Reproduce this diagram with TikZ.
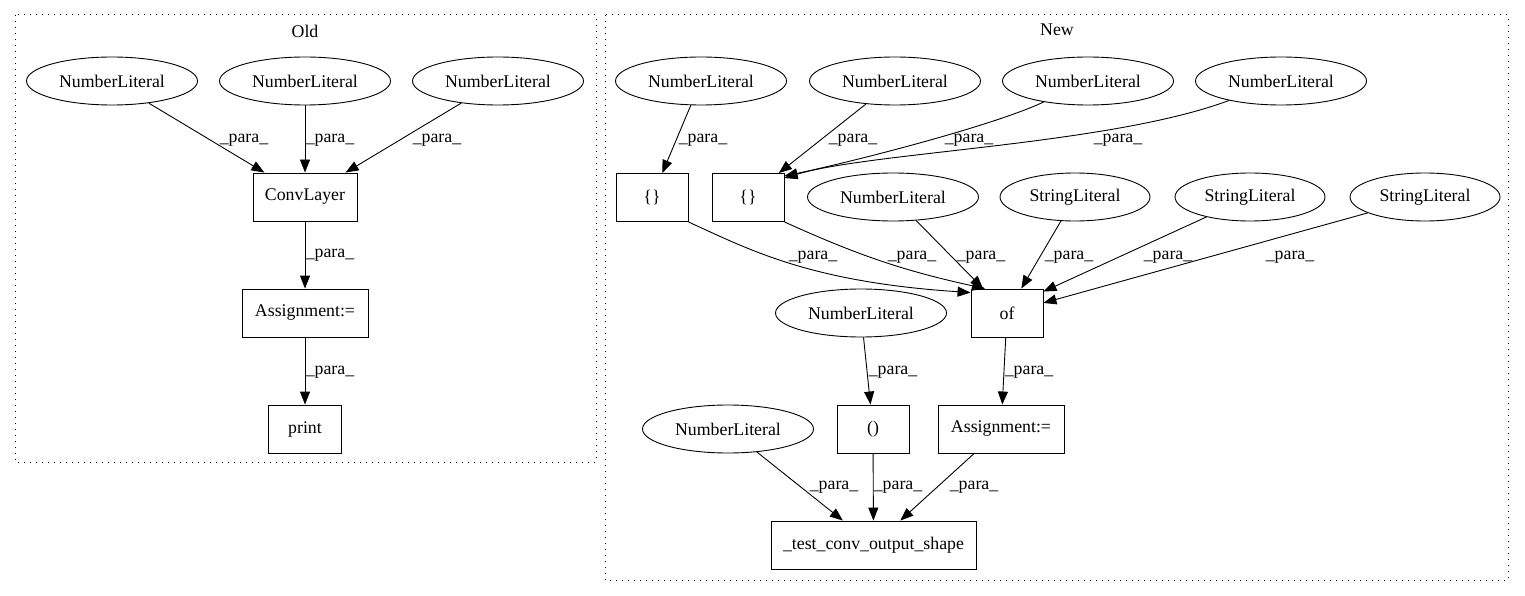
\documentclass[tikz,border=0pt]{standalone}
\usepackage{fontspec}
\setmainfont{Liberation Serif}
\usepackage{tikz}
\usetikzlibrary{shapes,arrows.meta}
\tikzstyle{lit}     = [ellipse, draw, minimum width=171pt, minimum height=48pt, inner sep=0pt]
\tikzstyle{strlit}  = [lit, minimum width=150pt]
\tikzstyle{op}      = [rectangle, draw, minimum width=72pt, minimum height=48pt, inner sep=0pt]
\tikzstyle{arrow}   = [->, >={Triangle[length=13pt,width=10pt]}]
\tikzstyle{lbl}     = [inner sep=0pt]
\tikzstyle{cluster} = [draw, line width=1pt, dash pattern=on 1pt off 5pt]

\begin{document}
\begin{tikzpicture}[x=1pt, y=-1pt, line width=0.9pt, font=\fontsize{17.8}{21}\selectfont]
        \useasboundingbox (0,0) rectangle (1525,596);

        % Old
        \draw[cluster] (15,15) rectangle (596,462);
        \node (oldtitle) at (305,31) {Old};
        \node[lit] (oldnum1) at (112,81) {NumberLiteral};
        \node[lit] (oldnum2) at (305,81) {NumberLiteral};
        \node[lit] (oldnum3) at (498,81) {NumberLiteral};
        \node[op, minimum width=104pt] (convlayer) at (305,197) {ConvLayer};
        \node[op, minimum width=126pt] (oldassign) at (305,313) {Assignment:=};
        \node[op, minimum width=73pt] (print) at (305,429) {print};

        \draw[arrow] (oldnum1) -- (convlayer) node[lbl] at (244,140) {\_para\_};
        \draw[arrow] (oldnum2) -- (convlayer) node[lbl] at (330,140) {\_para\_};
        \draw[arrow] (oldnum3) -- (convlayer) node[lbl] at (437,140) {\_para\_};
        \draw[arrow] (convlayer) -- (oldassign) node[lbl] at (330,255) {\_para\_};
        \draw[arrow] (oldassign) -- (print) node[lbl] at (330,372) {\_para\_};

        % New
        \draw[cluster] (605,15) rectangle (1508,580);
        \node (newtitle) at (1057,30) {New};
        \node[lit] (newnum1) at (701,81) {NumberLiteral};
        \node[lit] (newnum2) at (895,81) {NumberLiteral};
        \node[lit] (newnum3) at (1088,81) {NumberLiteral};
        \node[lit] (newnum4) at (1281,81) {NumberLiteral};
        \node[op] (brace1) at (652,197.5) {\{\}};
        \node[op] (brace2) at (748,197.5) {\{\}};
        \node[lit] (newnum5) at (893,197) {NumberLiteral};
        \node[strlit] (str1) at (1075,197) {StringLiteral};
        \node[strlit] (str2) at (1250,197) {StringLiteral};
        \node[strlit] (str3) at (1425,197) {StringLiteral};
        \node[op] (of) at (1007,313) {of};
        \node[lit] (newnum6) at (861,313) {NumberLiteral};
        \node[lit] (newnum7) at (728,429) {NumberLiteral};
        \node[op] (paren) at (873,429) {()};
        \node[op, minimum width=126pt] (newassign) at (1001,429) {Assignment:=};
        \node[op, minimum width=205pt] (testshape) at (873.5,545) {\_test\_conv\_output\_shape};

        \draw[arrow] (newnum1) -- (brace1) node[lbl] at (703,140) {\_para\_};
        \draw[arrow] (newnum2) -- (brace2) node[lbl] at (853,140) {\_para\_};
        \draw[arrow] (newnum3) .. controls (995,125) and (860,160) .. ([yshift=-3pt]brace2.north east)
            node[lbl] at (969,140) {\_para\_};
        \draw[arrow] (newnum4) .. controls (1110,145) and (870,152) .. ([yshift=-5pt]brace2.north east)
            node[lbl] at (1118,140) {\_para\_};
        \draw[arrow] (brace1.south east) .. controls (750,250) and (810,282) .. ([yshift=-4pt]of.north west)
            node[lbl] at (813,257) {\_para\_};
        \draw[arrow] (brace2.south east) to[bend right=6] ([xshift=-22pt]of.north)
            node[lbl] at (912,257) {\_para\_};
        \draw[arrow] (newnum5) -- (of) node[lbl] at (981,257) {\_para\_};
        \draw[arrow] (str1) -- (of) node[lbl] at (1069,257) {\_para\_};
        \draw[arrow] (str2) -- ([yshift=-3pt]of.north east) node[lbl] at (1168,257) {\_para\_};
        \draw[arrow] (str3) -- (of) node[lbl] at (1290,257) {\_para\_};
        \draw[arrow] (newnum6) -- (paren) node[lbl] at (893,372) {\_para\_};
        \draw[arrow] (of) -- (newassign) node[lbl] at (1029,372) {\_para\_};
        \draw[arrow] (newnum7) -- (testshape) node[lbl] at (834,487) {\_para\_};
        \draw[arrow] (paren) -- (testshape) node[lbl] at (898,487) {\_para\_};
        \draw[arrow] (newassign) -- (testshape) node[lbl] at (974,487) {\_para\_};
\end{tikzpicture}
\end{document}
